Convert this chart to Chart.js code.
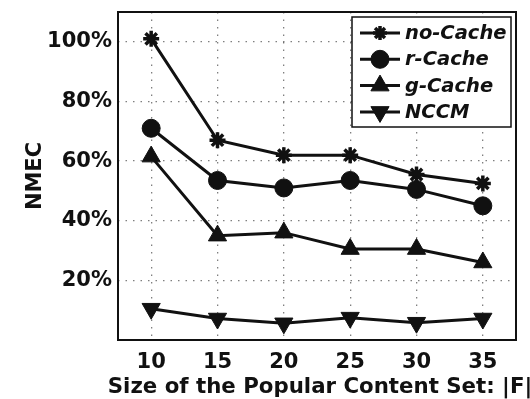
<!DOCTYPE html>
<html>
<head>
<meta charset="utf-8">
<script src="https://cdn.jsdelivr.net/npm/chart.js@4"></script>
<style>
    html, body { margin: 0; padding: 0; background: #fff; }
</style>
</head>
<body>
<canvas id="grafica" width="530" height="399"></canvas>
<script>
// Datos
const tamanos = [10, 15, 20, 25, 30, 35];
const noCache = [101, 67, 62, 62, 55.5, 52.5];
const rCache = [71, 53.5, 51, 53.5, 50.5, 45];
const gCache = [61.5, 35, 36, 30.5, 30.5, 26];
const nccm = [10.5, 7.2, 5.6, 7.5, 5.8, 7.2];
const ticksY = [20, 40, 60, 80, 100];
const nombres = ['no-Cache', 'r-Cache', 'g-Cache', 'NCCM'];
const tituloX = 'Size of the Popular Content Set: |F|';

const fuente = 'DejaVu Sans';
const negro = '#111';

function puntos(valores) {
    return valores.map(function (v, i) {
        return { x: tamanos[i], y: v };
    });
}

function serie(nombre, valores, estilo, radio, rotacion) {
    return {
        label: nombre,
        data: puntos(valores),
        borderColor: negro,
        backgroundColor: negro,
        borderWidth: 3,
        pointStyle: estilo,
        pointRadius: radio,
        pointRotation: rotacion,
        pointBorderWidth: estilo === 'star' ? 3.5 : 1,
        pointBackgroundColor: negro,
        pointBorderColor: negro,
        tension: 0
    };
}

// Marco negro alrededor del area de la grafica
const marco = {
    id: 'marco',
    afterDatasetsDraw: function (chart) {
        const a = chart.chartArea;
        const ctx = chart.ctx;
        ctx.save();
        ctx.strokeStyle = negro;
        ctx.lineWidth = 2;
        ctx.strokeRect(a.left, a.top, a.right - a.left, a.bottom - a.top);
        // titulo del eje x, sin limite de ancho (en el original se sale del borde)
        ctx.fillStyle = negro;
        ctx.font = 'bold 21.3px "' + fuente + '"';
        ctx.textAlign = 'center';
        ctx.textBaseline = 'middle';
        ctx.fillText(tituloX, (a.left + a.right) / 2 + 3, 387);
        ctx.restore();
    }
};

// Leyenda dentro de la grafica (linea con marcador en medio)
const leyenda = {
    id: 'leyenda',
    afterDraw: function (chart) {
        const a = chart.chartArea;
        const ctx = chart.ctx;
        const x0 = a.right - 164, y0 = a.top + 5, w = 159, h = 110;
        ctx.save();
        ctx.fillStyle = '#fff';
        ctx.fillRect(x0, y0, w, h);
        ctx.strokeStyle = negro;
        ctx.lineWidth = 1.5;
        ctx.strokeRect(x0, y0, w, h);
        chart.data.datasets.forEach(function (ds, i) {
            const y = y0 + 16 + i * 26.3;
            ctx.strokeStyle = negro;
            ctx.lineWidth = 3;
            ctx.beginPath();
            ctx.moveTo(x0 + 8, y);
            ctx.lineTo(x0 + 48, y);
            ctx.stroke();
            ctx.fillStyle = negro;
            ctx.lineWidth = ds.pointBorderWidth;
            if (Chart.helpers && Chart.helpers.drawPoint) {
                Chart.helpers.drawPoint(ctx, {
                    pointStyle: ds.pointStyle,
                    radius: ds.pointStyle === 'star' ? 7 : ds.pointRadius,
                    rotation: ds.pointRotation || 0,
                    borderWidth: ds.pointBorderWidth
                }, x0 + 28, y);
            }
            ctx.fillStyle = negro;
            ctx.font = 'italic bold 19.5px "' + fuente + '"';
            ctx.textBaseline = 'middle';
            ctx.textAlign = 'left';
            ctx.fillText(ds.label, x0 + 53, y + 1);
        });
        ctx.restore();
    }
};

const rejilla = {
    color: 'rgba(0,0,0,0.5)',
    lineWidth: 1.3,
    drawTicks: false
};
const borde = { display: false, dash: [1.5, 6] };

new Chart(document.getElementById('grafica').getContext('2d'), {
    type: 'line',
    data: {
        datasets: [
            serie(nombres[0], noCache, 'star', 8, 0),
            serie(nombres[1], rCache, 'circle', 9, 0),
            serie(nombres[2], gCache, 'triangle', 10.5, 0),
            serie(nombres[3], nccm, 'triangle', 10.5, 180)
        ]
    },
    options: {
        responsive: false,
        devicePixelRatio: 1,
        animation: false,
        layout: { padding: { left: 19, top: 12, right: 14, bottom: 0 } },
        plugins: {
            legend: { display: false },
            tooltip: { enabled: false }
        },
        scales: {
            x: {
                type: 'linear',
                min: 7.5,
                max: 37.5,
                afterBuildTicks: function (escala) {
                    escala.ticks = tamanos.map(function (v) { return { value: v }; });
                },
                afterFit: function (escala) {
                    escala.height = 59;
                    escala.paddingLeft = 0;
                    escala.paddingRight = 0;
                },
                grid: rejilla,
                border: borde,
                ticks: {
                    color: negro,
                    padding: 10,
                    maxRotation: 0,
                    font: { family: fuente, size: 21, weight: 'bold' }
                },
                title: { display: false }
            },
            y: {
                type: 'linear',
                min: 0,
                max: 110,
                afterBuildTicks: function (escala) {
                    escala.ticks = ticksY.map(function (v) { return { value: v }; });
                },
                afterFit: function (escala) {
                    escala.width = 99;
                    escala.paddingTop = 0;
                    escala.paddingBottom = 0;
                },
                grid: rejilla,
                border: borde,
                ticks: {
                    color: negro,
                    padding: 6,
                    font: { family: fuente, size: 21, weight: 'bold' },
                    callback: function (v) { return v + '%'; }
                },
                title: {
                    display: true,
                    text: 'NMEC',
                    color: negro,
                    padding: { top: 4, bottom: 0 },
                    font: { family: fuente, size: 21, weight: 'bold' }
                }
            }
        }
    },
    plugins: [marco, leyenda]
});
</script>
</body>
</html>
